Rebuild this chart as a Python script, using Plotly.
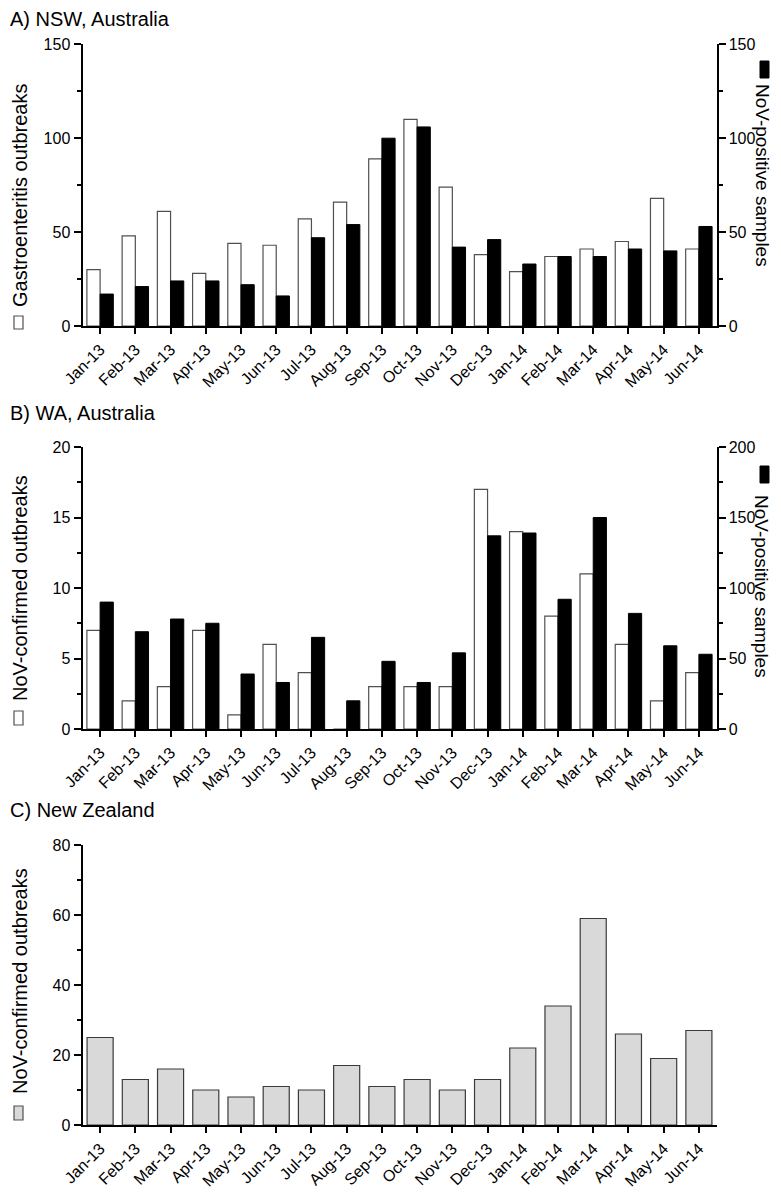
import plotly.graph_objects as go

# ---------------- data ----------------
months = ["Jan-13", "Feb-13", "Mar-13", "Apr-13", "May-13", "Jun-13", "Jul-13", "Aug-13",
          "Sep-13", "Oct-13", "Nov-13", "Dec-13", "Jan-14", "Feb-14", "Mar-14", "Apr-14",
          "May-14", "Jun-14"]

# A) NSW
nsw_gastro_outbreaks = [30, 48, 61, 28, 44, 43, 57, 66, 89, 110, 74, 38, 29, 37, 41, 45, 68, 41]
nsw_nov_samples = [17, 21, 24, 24, 22, 16, 47, 54, 100, 106, 42, 46, 33, 37, 37, 41, 40, 53]

# B) WA
wa_nov_outbreaks = [7, 2, 3, 7, 1, 6, 4, 0, 3, 3, 3, 17, 14, 8, 11, 6, 2, 4]
wa_nov_samples = [90, 69, 78, 75, 39, 33, 65, 20, 48, 33, 54, 137, 139, 92, 150, 82, 59, 53]

# C) New Zealand
nz_nov_outbreaks = [25, 13, 16, 10, 8, 11, 10, 17, 11, 13, 10, 13, 22, 34, 59, 26, 19, 27]

panel_titles = ["A) NSW, Australia", "B) WA, Australia", "C) New Zealand"]
left_titles = ["Gastroenteritis outbreaks", "NoV-confirmed outbreaks", "NoV-confirmed outbreaks"]
right_title = "NoV-positive samples"

# ---------------- layout helpers ----------------
# the page body has an 8px margin, so the figure sits at (8, 8) and is sized to fit
OFF = 8
W, H = 781 - 2 * OFF, 1197 - 2 * OFF
FONT = "Liberation Sans, Arial, Helvetica, sans-serif"


def px_x(p):
    return (p - OFF) / W


def px_y(p):
    return 1 - (p - OFF) / H


XDOM = [px_x(82.5), px_x(716.5)]
DOM_A = [px_y(326), px_y(44.3)]
DOM_B = [px_y(729), px_y(447)]
DOM_C = [px_y(1125), px_y(845)]

fig = go.Figure()

BAR_W = 0.375
white_marker = dict(color="white", line=dict(color="#505050", width=1.2))
black_marker = dict(color="black", line=dict(color="black", width=1))

fig.add_trace(go.Bar(x=months, y=nsw_gastro_outbreaks, xaxis="x", yaxis="y",
                     offset=-BAR_W, width=BAR_W, marker=white_marker, showlegend=False))
fig.add_trace(go.Bar(x=months, y=nsw_nov_samples, xaxis="x", yaxis="y2",
                     offset=0, width=BAR_W, marker=black_marker, showlegend=False))
fig.add_trace(go.Bar(x=months, y=wa_nov_outbreaks, xaxis="x2", yaxis="y3",
                     offset=-BAR_W, width=BAR_W, marker=white_marker, showlegend=False))
fig.add_trace(go.Bar(x=months, y=wa_nov_samples, xaxis="x2", yaxis="y4",
                     offset=0, width=BAR_W, marker=black_marker, showlegend=False))
fig.add_trace(go.Bar(x=months, y=nz_nov_outbreaks, xaxis="x3", yaxis="y5",
                     width=0.74, marker=dict(color="#d9d9d9", line=dict(color="#3a3a3a", width=1.2)),
                     showlegend=False))


def xax(anchor):
    return dict(type="category", domain=XDOM, anchor=anchor, range=[-0.5, 17.5],
                automargin=False,
                showline=True, linecolor="black", linewidth=2,
                ticks="outside", ticklen=6, tickwidth=2, tickcolor="black",
                tickangle=-45, tickfont=dict(size=16, color="black", family=FONT),
                showgrid=False, zeroline=False)


def yax(dom, anchor, rng, dtick, minor, side="left", overlaying=None):
    d = dict(range=rng, anchor=anchor, side=side, automargin=False,
             showline=True, linecolor="black", linewidth=2,
             ticks="outside", ticklen=7, tickwidth=2, tickcolor="black",
             tick0=0, dtick=dtick,
             tickfont=dict(size=16, color="black", family=FONT),
             minor=dict(dtick=minor, tick0=0, ticks="outside", ticklen=4, tickwidth=2,
                        tickcolor="black", showgrid=False),
             showgrid=False, zeroline=False)
    if overlaying:
        d["overlaying"] = overlaying
    else:
        d["domain"] = dom
    return d


fig.update_layout(
    template="none",
    width=W, height=H, autosize=False,
    margin=dict(l=0, r=0, t=0, b=0, pad=0, autoexpand=False),
    paper_bgcolor="white", plot_bgcolor="white",
    font=dict(family=FONT, color="black"),
    barmode="overlay",
    showlegend=False,
    xaxis=xax("y"),
    xaxis2=xax("y3"),
    xaxis3=xax("y5"),
    yaxis=yax(DOM_A, "x", [0, 150], 50, 25),
    yaxis2=yax(None, "x", [0, 150], 50, 25, side="right", overlaying="y"),
    yaxis3=yax(DOM_B, "x2", [0, 20], 5, 2.5),
    yaxis4=yax(None, "x2", [0, 200], 50, 25, side="right", overlaying="y3"),
    yaxis5=yax(DOM_C, "x3", [0, 80], 20, 10),
)

ann = []
# panel titles
for t, yp in zip(panel_titles, [19, 413, 810]):
    ann.append(dict(text=t, x=0, y=px_y(yp), xref="paper", yref="paper",
                    xanchor="left", yanchor="middle", showarrow=False,
                    font=dict(size=20, family=FONT, color="black")))
# left axis titles
for t, yp in zip(left_titles, [196, 588, 981]):
    ann.append(dict(text=t, x=px_x(20), y=px_y(yp), xref="paper", yref="paper",
                    xanchor="center", yanchor="middle", textangle=-90, showarrow=False,
                    font=dict(size=20, family=FONT, color="black")))
# right axis titles
for yp in [175, 586]:
    ann.append(dict(text=right_title, x=px_x(762), y=px_y(yp), xref="paper", yref="paper",
                    xanchor="center", yanchor="middle", textangle=90, showarrow=False,
                    font=dict(size=19, family=FONT, color="black")))
fig.update_layout(annotations=ann)

# legend swatches next to axis titles
shapes = []
for (y0, y1), fill in zip([(316, 329), (711, 725), (1106, 1120)], ["white", "white", "#d9d9d9"]):
    shapes.append(dict(type="rect", xref="paper", yref="paper",
                       x0=px_x(14), x1=px_x(23), y0=px_y(y1), y1=px_y(y0),
                       fillcolor=fill, line=dict(color="#505050", width=1.2)))
for (y0, y1) in [(61, 78), (466, 483)]:
    shapes.append(dict(type="rect", xref="paper", yref="paper",
                       x0=px_x(760), x1=px_x(769), y0=px_y(y1), y1=px_y(y0),
                       fillcolor="black", line=dict(color="black", width=1)))
fig.update_layout(shapes=shapes)

fig.write_html("out.html")
